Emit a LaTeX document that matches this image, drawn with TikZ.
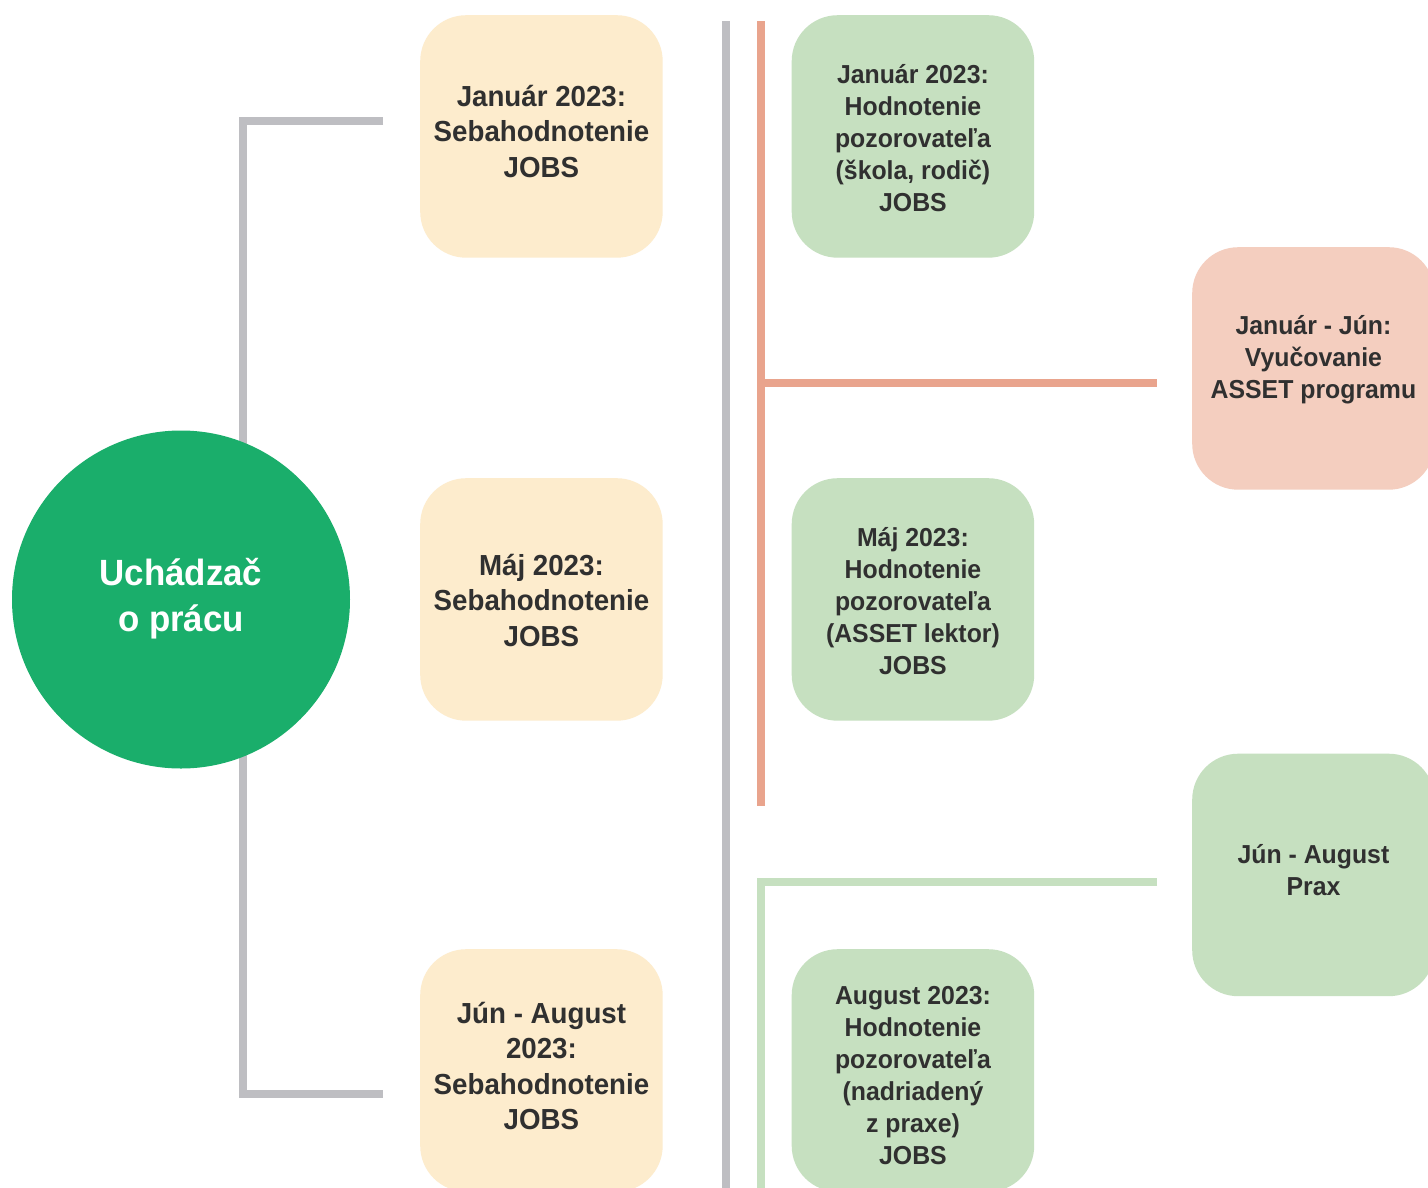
\documentclass[tikz,border=0pt]{standalone}
\usepackage{fontspec}
\setmainfont[FakeStretch=0.955]{Liberation Sans}
\definecolor{cyellow}{HTML}{FDECCD}
\definecolor{cgbox}{HTML}{C6E0C0}
\definecolor{csbox}{HTML}{F4CEBF}
\definecolor{csline}{HTML}{E9A48D}
\definecolor{cgray}{HTML}{BEBEC2}
\definecolor{ccircle}{HTML}{1AAE6B}
\definecolor{ctext}{HTML}{303030}
\begin{document}
\begin{tikzpicture}[x=1pt,y=-1pt,
  boxbase/.style={rectangle, rounded corners=46pt, minimum width=242.5pt, minimum height=242.5pt, inner sep=0pt, anchor=north west},
  ybox/.style={boxbase, fill=cyellow},
  gbox/.style={boxbase, fill=cgbox},
  sbox/.style={boxbase, fill=csbox},
  ytext/.style={align=center, inner sep=0pt, text=ctext, font=\fontsize{29pt}{35.5pt}\selectfont\bfseries},
  gtext/.style={align=center, inner sep=0pt, text=ctext, font=\fontsize{26pt}{32pt}\selectfont\bfseries},
  ctextstyle/.style={align=center, inner sep=0pt, text=white, font=\fontsize{36.5pt}{46.5pt}\selectfont\bfseries},
  grayline/.style={draw=cgray, line width=8pt},
  salmonline/.style={draw=csline, line width=8pt},
  greenline/.style={draw=cgbox, line width=8pt}
]
\clip (0,0) rectangle (1428,1187);
\useasboundingbox (0,0) rectangle (1428,1187);
\fill[white] (0,0) rectangle (1428,1187);

% connector coordinates
\coordinate (bt) at (383,120.5);
\coordinate (bb) at (383,1093.5);
\coordinate (mt) at (726,21);
\coordinate (mb) at (726,1200);
\coordinate (st) at (760.5,21);
\coordinate (sb) at (760.5,806);
\coordinate (sl) at (760.5,382.7);
\coordinate (sr) at (1157,382.7);
\coordinate (gr) at (1157,882);
\coordinate (gb) at (760.5,1200);

% lines
\draw[grayline] (bt) -- ++(-140.4,0) |- (bb);
\draw[grayline] (mt) -- (mb);
\draw[salmonline] (st) -- (sb);
\draw[salmonline] (sl) -- (sr);
\draw[greenline] (gr) -| (gb);

% circle
\node[circle, fill=ccircle, minimum size=338pt, inner sep=0pt] (c) at (181,599.5) {};
\node[ctextstyle] (ct) at ([yshift=0.7pt]c.center) {Uchádzač\\o prácu};

% boxes
\node[ybox] (y1) at (420,15) {};
\node[ybox] (y2) at (420,478) {};
\node[ybox] (y3) at (420,949) {};
\node[gbox] (g1) at (791.5,15) {};
\node[gbox] (g2) at (791.5,478) {};
\node[gbox] (g3) at (791.5,949) {};
\node[sbox] (s1) at (1192,247) {};
\node[gbox] (g4) at (1192,753.5) {};

% texts
\node[ytext] (y1t) at ([yshift=5.4pt]y1.center) {Január 2023:\\Sebahodnotenie\\JOBS};
\node[ytext] (y2t) at ([yshift=-0.9pt]y2.center) {Máj 2023:\\Sebahodnotenie\\JOBS};
\node[ytext] (y3t) at ([yshift=4.5pt]y3.center) {Jún - August\\2023:\\Sebahodnotenie\\JOBS};
\node[gtext] (g1t) at ([yshift=-1.4pt]g1.center) {Január 2023:\\Hodnotenie\\pozorovateľa\\(škola, rodič)\\JOBS};
\node[gtext] (g2t) at ([yshift=-1.7pt]g2.center) {Máj 2023:\\Hodnotenie\\pozorovateľa\\(ASSET lektor)\\JOBS};
\node[gtext] (g3t) at ([yshift=-5.5pt]g3.center) {August 2023:\\Hodnotenie\\pozorovateľa\\(nadriadený\\z praxe)\\JOBS};
\node[gtext] (s1t) at ([yshift=8.5pt]s1.center) {Január - Jún:\\Vyučovanie\\ASSET programu};
\node[gtext] (g4t) at ([yshift=5pt]g4.center) {Jún - August\\Prax};
\end{tikzpicture}
\end{document}
